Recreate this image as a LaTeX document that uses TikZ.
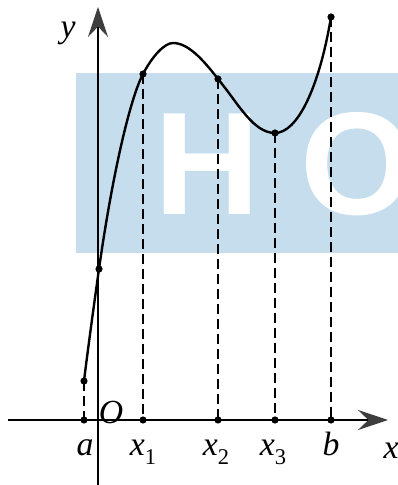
\documentclass[tikz,border=0pt]{standalone}
\usepackage{fontspec}
\setmainfont{Liberation Serif}
\newfontfamily\markfont{Liberation Sans}
\usetikzlibrary{arrows.meta}
\definecolor{markblue}{RGB}{197,221,237}
\definecolor{tipgray}{RGB}{62,62,62}
\newcommand{\lsub}[2]{\textit{#1}\raisebox{-0.55ex}{\fontsize{16}{16}\selectfont\upshape #2}}

\begin{document}
\begin{tikzpicture}[
  x=0.025cm,y=0.025cm,
  axis/.style={line width=1.5pt,-{Stealth[length=7.5mm,width=5mm,inset=2.6mm,color=tipgray]}},
  curve/.style={line width=1.7pt},
  guide/.style={line width=1.5pt,dash pattern=on 2.5mm off 1.25mm},
  dot/.style={circle,fill=black,inner sep=0pt,minimum size=1.8mm},
  lbl/.style={font=\fontsize{24}{26}\selectfont\itshape,inner sep=0pt,anchor=base},
  wm/.style={text=white,font=\markfont\bfseries\fontsize{104}{104}\selectfont,inner sep=0pt,anchor=base}
]
\useasboundingbox (0,0) rectangle (398,485);
% watermark band
\begin{scope}
  \clip (76,232) rectangle (398,412);
  \fill[markblue] (76,232) rectangle (398,412);
  \node[wm] (markH) at (207,270) {H};
  \node[wm] (markO) at (357,270) {O};
\end{scope}
% points on the curve and their feet
\coordinate (A) at (84,104);
\coordinate (P0) at (99,216);
\coordinate (P1) at (143,411);
\coordinate (M) at (173,442);
\coordinate (P2) at (218,406);
\coordinate (P3) at (275,352);
\coordinate (B) at (331,468);
\coordinate (Fa) at (84,65);
\coordinate (F1) at (143,65);
\coordinate (F2) at (218,65);
\coordinate (F3) at (275,65);
\coordinate (Fb) at (331,65);
\coordinate (xstart) at (8,65);
\coordinate (xend) at (388,65);
\coordinate (ystart) at (98,0);
\coordinate (yend) at (98,478);
% dashed guides
\draw[guide] (A) -- (Fa);
\draw[guide] (P1) -- (F1);
\draw[guide] (P2) -- (F2);
\draw[guide] (P3) -- (F3);
\draw[guide] (B) -- (Fb);
% axes
\draw[axis] (xstart) -- (xend);
\draw[axis] (ystart) -- (yend);
% graph
\draw[curve] (A) .. controls (87,129) and (95,188) .. (P0)
  .. controls (112,308) and (129.7,385.7) .. (P1)
  .. controls (152.8,429.6) and (164.8,442) .. (M)
  .. controls (188,442) and (203,425.5) .. (P2)
  .. controls (238,382) and (253,352) .. (P3)
  .. controls (297,352) and (319,396) .. (B);
\foreach \p in {A,P0,P1,P2,P3,B,Fa,F1,F2,F3,Fb}
  \node[dot] at (\p) {};
% labels
\node[lbl] (ylab) at (68,447) {y};
\node[lbl] (xlab) at (391,26) {x};
\node[lbl] (olab) at (111,61) {O};
\node[lbl] (alab) at (85,29) {a};
\node[lbl] (x1lab) at (143,29) {\lsub{x}{1}};
\node[lbl] (x2lab) at (216,29) {\lsub{x}{2}};
\node[lbl] (x3lab) at (273,29) {\lsub{x}{3}};
\node[lbl] (blab) at (331,29) {b};
\end{tikzpicture}
\end{document}
